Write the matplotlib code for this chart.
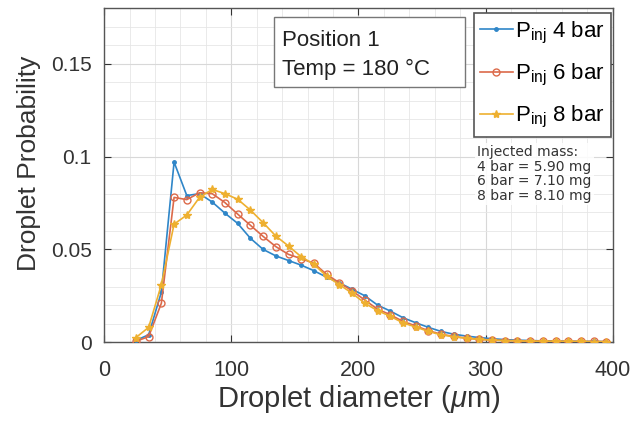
import matplotlib
matplotlib.use('Agg')
import matplotlib.pyplot as plt
from matplotlib.patches import Rectangle
from matplotlib.ticker import MultipleLocator

plt.rcParams['font.family'] = ['Liberation Sans', 'DejaVu Sans']
plt.rcParams['mathtext.fontset'] = 'custom'
plt.rcParams['mathtext.rm'] = 'Liberation Sans'
plt.rcParams['mathtext.it'] = 'Liberation Sans:italic'

# droplet diameter bin centres (um)
diameter = list(range(25, 400, 10))

prob_4bar = [0.001, 0.004, 0.027, 0.097, 0.079, 0.080, 0.0755, 0.0695, 0.064, 0.056,
             0.050, 0.0465, 0.044, 0.0415, 0.0385, 0.035, 0.032, 0.0285, 0.025, 0.020,
             0.0168, 0.0132, 0.0105, 0.008, 0.0058, 0.0043, 0.0033, 0.0025, 0.0019, 0.0014,
             0.0011, 0.0009, 0.0007, 0.0006, 0.0005, 0.0004, 0.0004, 0.0003]
prob_6bar = [0.0005, 0.003, 0.021, 0.078, 0.0768, 0.0805, 0.080, 0.0752, 0.069, 0.063,
             0.057, 0.0515, 0.0473, 0.045, 0.0425, 0.0365, 0.032, 0.0277, 0.0227, 0.0178,
             0.0148, 0.0112, 0.0088, 0.0062, 0.0043, 0.0031, 0.0022, 0.0016, 0.0012, 0.0009,
             0.0008, 0.0007, 0.0006, 0.0005, 0.0005, 0.0004, 0.0004, 0.0003]
prob_8bar = [0.0025, 0.008, 0.031, 0.0636, 0.0685, 0.078, 0.0823, 0.080, 0.077, 0.0712,
             0.0644, 0.0572, 0.0518, 0.046, 0.042, 0.0355, 0.031, 0.0264, 0.021, 0.017,
             0.014, 0.0104, 0.0082, 0.0058, 0.004, 0.0029, 0.0021, 0.0015, 0.0011, 0.0009,
             0.0007, 0.0006, 0.0005, 0.0005, 0.0004, 0.0004, 0.0003, 0.0003]

labels = [r'P$_{\rm inj}$ 4 bar', r'P$_{\rm inj}$ 6 bar', r'P$_{\rm inj}$ 8 bar']
mass_text = 'Injected mass:\n4 bar = 5.90 mg\n6 bar = 7.10 mg\n8 bar = 8.10 mg'

fig = plt.figure(figsize=(6.35, 4.23), dpi=100)
ax = fig.add_axes([0.164, 0.191, 0.801, 0.790])

ax.plot(diameter, prob_4bar, color='#2f86c8', marker='.', markersize=5, lw=1.2,
        label=labels[0], zorder=3)
ax.plot(diameter, prob_6bar, color='#dc6a4a', marker='o', markersize=5, lw=1.2,
        markerfacecolor='none', markeredgewidth=1.0, label=labels[1], zorder=4)
ax.plot(diameter, prob_8bar, color='#eeb030', marker='*', markersize=6, lw=1.2,
        label=labels[2], zorder=5)

ax.set_xlim(0, 400)
ax.set_ylim(0, 0.18)
ax.xaxis.set_major_locator(MultipleLocator(100))
ax.xaxis.set_minor_locator(MultipleLocator(20))
ax.yaxis.set_minor_locator(MultipleLocator(0.01))
ax.set_yticks([0, 0.05, 0.1, 0.15])
ax.set_yticklabels(['0', '0.05', '0.1', '0.15'])

ax.grid(True, which='major', color='#d8d8d8', lw=0.8)
ax.grid(True, which='minor', color='#e6e6e6', lw=0.6)
ax.set_axisbelow(True)

ax.tick_params(which='both', direction='in', top=True, right=True, colors='#333333')
ax.tick_params(which='minor', length=0)
ax.tick_params(which='major', length=5)
ax.tick_params(axis='x', labelsize=15.5, pad=13)
ax.tick_params(axis='y', labelsize=15, pad=9)
for s in ax.spines.values():
    s.set_color('#555555')
    s.set_linewidth(1.0)

ax.set_xlabel(r'Droplet diameter ($\mu$m)', fontsize=21, color='#333333', labelpad=1)
ax.set_ylabel('Droplet Probability', fontsize=19, color='#333333')
ax.yaxis.set_label_coords(-0.125, 0.534)

# info box
ax.add_patch(Rectangle((0.334, 0.763), 0.375, 0.210, transform=ax.transAxes,
                       facecolor='white', edgecolor='#777777', lw=1.0, zorder=6))
ax.text(0.349, 0.886, 'Position 1', transform=ax.transAxes, fontsize=16,
        va='baseline', ha='left', color='#222222', zorder=7)
ax.text(0.349, 0.799, 'Temp = 180 \u00b0C', transform=ax.transAxes, fontsize=16,
        va='baseline', ha='left', color='#222222', zorder=7)

leg = ax.legend(loc='upper right', bbox_to_anchor=(0.997, 0.985), fontsize=16,
                handlelength=1.45, handletextpad=0.1, borderpad=0.3, labelspacing=0.72,
                borderaxespad=0.0, fancybox=False, framealpha=1, edgecolor='#555555')
leg.get_frame().set_linewidth(1.2)

ax.text(0.734, 0.59, mass_text, transform=ax.transAxes, fontsize=10,
        family='DejaVu Sans', va='top', ha='left', color='#333333', linespacing=1.05,
        bbox=dict(boxstyle='square,pad=0.15', facecolor='white', edgecolor='none', alpha=0.85))

fig.savefig('out.png', dpi=100)
